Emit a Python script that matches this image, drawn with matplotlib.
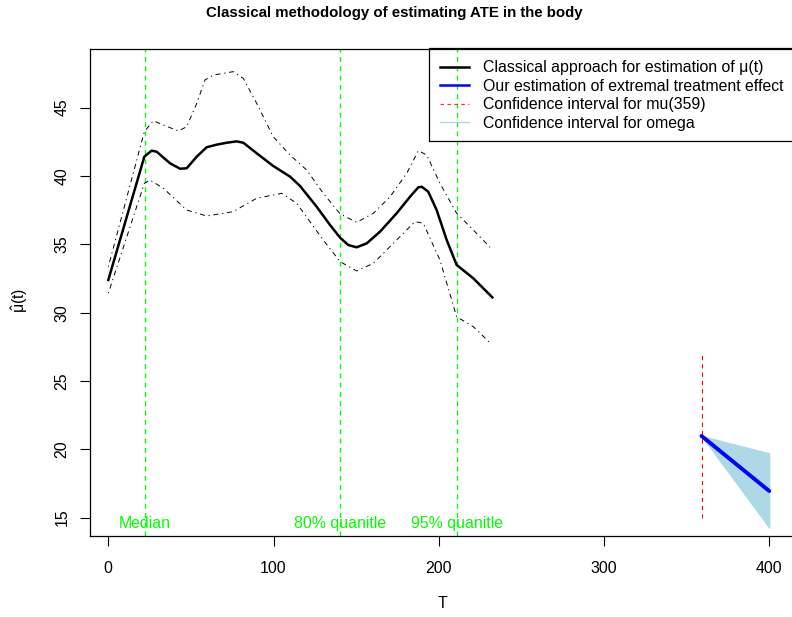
import matplotlib
matplotlib.use("Agg")
import matplotlib.pyplot as plt
from matplotlib.lines import Line2D
import numpy as np

plt.rcParams['font.family'] = ['Liberation Sans', 'DejaVu Sans']
plt.rcParams['lines.scale_dashes'] = False
plt.rcParams['mathtext.fontset'] = 'custom'
plt.rcParams['mathtext.rm'] = 'Liberation Sans'
plt.rcParams['mathtext.it'] = 'Liberation Sans:italic'

# Classical estimate mu(t)
t_mu = [0, 21.8, 26.2, 29.3, 37.3, 43.4, 47.4, 53.5, 59.5, 65.6, 71.6, 77.7, 81.7, 89.8,
        99.8, 110, 116, 126.1, 134.2, 140.3, 145.2, 150.3, 156.4, 164.4, 174.5, 182.6,
        187.6, 189.7, 193.6, 198.7, 204.8, 210.8, 220.9, 232.4]
mu = [32.39, 41.41, 41.85, 41.77, 40.93, 40.53, 40.56, 41.41, 42.10, 42.29, 42.43, 42.53,
      42.43, 41.66, 40.73, 39.95, 39.27, 37.75, 36.41, 35.48, 34.95, 34.78, 35.07, 35.92,
      37.27, 38.48, 39.17, 39.21, 38.85, 37.51, 35.31, 33.49, 32.51, 31.12]

t_up = [0, 21.8, 27.2, 33.3, 42.4, 47.4, 53.5, 58.5, 63.5, 75.6, 81.7, 89.8, 99.8, 110,
        120, 130.1, 140.3, 150.3, 160.4, 170.5, 180.6, 187.6, 192.7, 200.7, 210.8, 220.9, 231]
upper = [33.36, 43.24, 44.04, 43.73, 43.29, 43.60, 45.31, 47.02, 47.38, 47.63, 47.14, 45.31,
         42.87, 41.53, 40.44, 38.73, 37.22, 36.61, 37.27, 38.48, 40.19, 41.85, 41.53, 39.46,
         37.27, 36.05, 34.78]

t_lo = [0, 21.8, 25.2, 33.3, 47.4, 59.5, 75.6, 89.8, 104.9, 114, 130.1, 140.3, 150.3,
        160.4, 170.5, 185.6, 190.6, 200.7, 210.8, 220.9, 231]
lower = [31.42, 39.46, 39.70, 39.10, 37.51, 37.07, 37.39, 38.37, 38.73, 38.0, 35.31, 33.73,
         33.05, 33.61, 34.83, 36.66, 36.54, 33.85, 29.70, 28.97, 27.80]

# Extremal treatment effect
t_ext = [359, 400]
ext = [20.98, 16.95]
omega_upper = [20.98, 19.71]
omega_lower = [20.98, 14.27]
ci_mu359 = [15, 27]

quantile_t = [22, 140, 211]
quantile_labels = ["Median", "80% quanitle", "95% quanitle"]

legend_labels = ["Classical approach for estimation of μ(t)",
                 "Our estimation of extremal treatment effect",
                 "Confidence interval for mu(359)",
                 "Confidence interval for omega"]

FS = 11.4
W, H = 792, 617
fig = plt.figure(figsize=(W / 100, H / 100), dpi=100)
left, right, top, bottom = 90.3, 795.7, 48.7, 536
ax = fig.add_axes([left / W, 1 - bottom / H, (right - left) / W, (bottom - top) / H])

dotdash = (0, (0.9, 2.7, 3.6, 2.7))
ax.plot(t_mu, mu, color='black', lw=1.8, zorder=4)
ax.plot(t_up, upper, color='black', lw=0.7, linestyle=dotdash, zorder=3)
ax.plot(t_lo, lower, color='black', lw=0.7, linestyle=dotdash, zorder=3)

for q in quantile_t:
    ax.axvline(q, color='#00FF00', lw=1.0, linestyle=(0, (3.5, 3.2)), zorder=2)
for q, lab in zip(quantile_t, quantile_labels):
    ax.text(q, 14.6, lab, color='#00FF00', ha='center', va='center', fontsize=FS)

ax.fill_between(t_ext, omega_lower, omega_upper, color='lightblue', lw=0.8,
                edgecolor='lightblue', zorder=2)
ax.plot([t_ext[0], t_ext[0]], ci_mu359, color='red', lw=0.8, linestyle=(0, (3, 3)), zorder=3)
ax.plot(t_ext, ext, color='blue', lw=2.8, solid_capstyle='round', zorder=5)

# legend
handles = [
    Line2D([], [], color='black', lw=1.8),
    Line2D([], [], color='blue', lw=1.8),
    Line2D([], [], color='#ff3030', lw=0.9, linestyle=(0, (2.5, 2.5))),
    Line2D([], [], color='lightblue', lw=1.0),
]
fs_px = FS * 100 / 72
leg = fig.legend(handles, legend_labels, loc='upper left',
                 bbox_to_anchor=(429 / W, 1 - 48.7 / H), borderaxespad=0,
                 fontsize=FS, frameon=False,
                 handlelength=29 / fs_px, handletextpad=14 / fs_px,
                 labelspacing=0.22, borderpad=0.72)
# legend frame: its right edge lies outside the picture
fx = [850 / W, 429 / W, 429 / W, 850 / W]
fy = [1 - 47.8 / H, 1 - 47.8 / H, 1 - 140.7 / H, 1 - 140.7 / H]
fig.add_artist(Line2D(fx, fy, transform=fig.transFigure, color='black', lw=0.9))

ax.set_xlim(-10.9, 416)
ax.set_ylim(13.66, 49.31)
ax.set_xticks([0, 100, 200, 300, 400])
ax.set_yticks([15, 20, 25, 30, 35, 40, 45])
ax.tick_params(axis='both', direction='out', length=7, width=0.8, labelsize=FS)
ax.tick_params(axis='x', pad=11)
ax.tick_params(axis='y', pad=8)
for lab in ax.get_yticklabels():
    lab.set_rotation(90)
    lab.set_va('center')
for s in ax.spines.values():
    s.set_linewidth(0.9)
ax.spines['right'].set_visible(False)

fig.text(442 / W, 1 - 603 / H, 'T', ha='center', va='center', fontsize=FS)
fig.text(20 / W, 1 - 300 / H, r'$\mathrm{\hat{\mu}(t)}$', rotation=90, ha='center',
         va='center', fontsize=FS)
fig.text(394 / W, 1 - 13 / H, 'Classical methodology of estimating ATE in the body',
         ha='center', va='center', fontsize=10.8, fontweight='bold')

fig.savefig('out.png', dpi=100)
